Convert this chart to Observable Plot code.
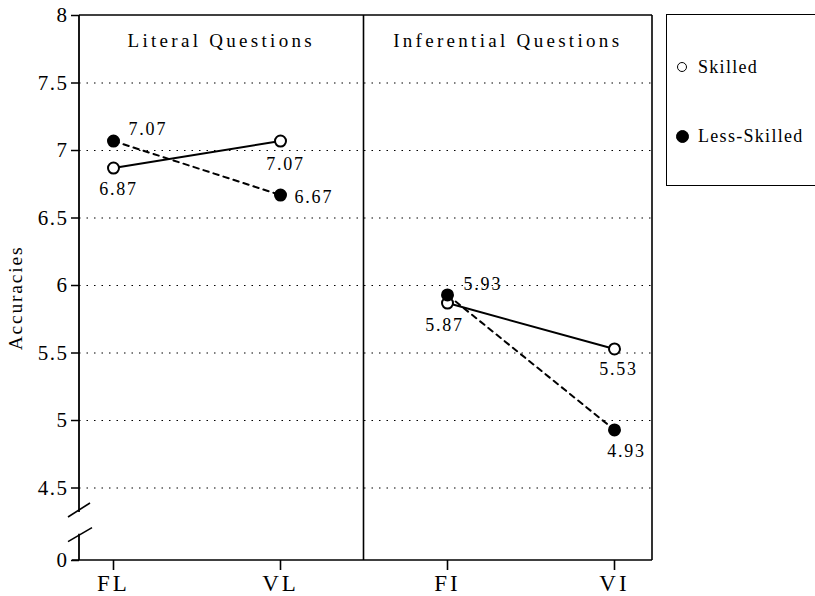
<!DOCTYPE html>
<html><head><meta charset="utf-8">
<script src="https://cdn.jsdelivr.net/npm/d3@7"></script>
<script src="https://cdn.jsdelivr.net/npm/@observablehq/plot@0.6"></script>
<style>
html,body{margin:0;padding:0;background:#fff;}
#wrap{position:relative;width:815px;height:596px;overflow:hidden;font-family:"Liberation Serif","DejaVu Serif",serif;}
#legend{position:absolute;left:666px;top:14px;width:160px;height:172px;border:1.6px solid #000;box-sizing:border-box;background:#fff;}
.item{position:absolute;left:31px;font-size:18px;letter-spacing:1.3px;line-height:20px;white-space:nowrap;color:#000;}
.mk{position:absolute;border:1.6px solid #000;border-radius:50%;box-sizing:border-box;}
g[aria-label="x-axis tick label"] text{letter-spacing:3px;}
g[aria-label="y-axis tick label"] text{letter-spacing:1.5px;}
</style>
</head><body>
<div id="wrap"><div id="chart"></div><div id="legend"></div></div>
<script>
const conditions = ["FL", "VL", "FI", "VI"];
const conditionPanel = ["Literal Questions", "Literal Questions", "Inferential Questions", "Inferential Questions"];
const panels = ["Literal Questions", "Inferential Questions"];
const seriesNames = ["Skilled", "Less-Skilled"];
const skilled = [6.87, 7.07, 5.87, 5.53];
const lessSkilled = [7.07, 6.67, 5.93, 4.93];
const yTicks = [4.5, 5, 5.5, 6, 6.5, 7, 7.5, 8];
const gridTicks = [4.5, 5, 5.5, 6, 6.5, 7, 7.5];
const zeroLabel = "0";
const yTitle = "Accuracies";

// axis break: the "0" tick sits at the bottom of the broken axis
const yFloor = 3.963;

const rows = conditions.flatMap((c, i) => [
  {cond: c, panel: conditionPanel[i], series: seriesNames[0], value: skilled[i]},
  {cond: c, panel: conditionPanel[i], series: seriesNames[1], value: lessSkilled[i]}
]);

// label placement (style only)
const placement = {
  "Skilled|FL": {dx: 5, dy: 21, anchor: "middle"},
  "Less-Skilled|FL": {dx: 15, dy: -12, anchor: "start"},
  "Skilled|VL": {dx: 5, dy: 23, anchor: "middle"},
  "Less-Skilled|VL": {dx: 14, dy: 2, anchor: "start"},
  "Less-Skilled|FI": {dx: 16, dy: -11, anchor: "start"},
  "Skilled|FI": {dx: -3, dy: 22, anchor: "middle"},
  "Skilled|VI": {dx: 4, dy: 20, anchor: "middle"},
  "Less-Skilled|VI": {dx: 12, dy: 21, anchor: "middle"}
};

const frameMark = (index, scales, values, dim) => {
  const x = scales.x, y = scales.y;
  const L = dim.marginLeft, R = dim.width - dim.marginRight, T = dim.marginTop, B = dim.height - dim.marginBottom;
  const mid = (x(conditions[1]) + x(conditions[2])) / 2;
  const y0 = y(yFloor), y45 = y(gridTicks[0]);
  const bU = y0 + (y45 - y0) * 0.69, bL = y0 + (y45 - y0) * 0.35;
  const g = d3.create("svg:g");
  const ln = (x1, y1, x2, y2, w = 1.6) => g.append("line")
    .attr("x1", x1).attr("y1", y1).attr("x2", x2).attr("y2", y2)
    .attr("stroke", "black").attr("stroke-width", w);
  ln(L, T, R, T);
  ln(R, T, R, B);
  ln(L - 7, B, R, B);
  ln(mid, T, mid, B);
  ln(L, T, L, bU + 2, 1.8);
  ln(L, bL - 1, L, B, 1.8);
  ln(L - 11, bU + 7, L + 11, bU - 7);
  ln(L - 11, bL + 7, L + 13, bL - 7);
  [[(L + mid) / 2, panels[0]], [(mid + R) / 2, panels[1]]].forEach(([cx, t]) => {
    g.append("text").attr("x", cx).attr("y", T + 32).attr("text-anchor", "middle")
      .attr("font-size", 19).attr("letter-spacing", "3.3px").attr("fill", "black").text(t);
  });
  return g.node();
};

const labelMarks = rows.map(r => {
  const p = placement[r.series + "|" + r.cond];
  return Plot.text([r], {x: "cond", y: "value", text: d => d.value.toFixed(2),
    dx: p.dx, dy: p.dy, textAnchor: p.anchor, fontSize: 18, fill: "black"});
});

const chart = Plot.plot({
  width: 815,
  height: 596,
  marginLeft: 79,
  marginRight: 163,
  marginTop: 15,
  marginBottom: 36,
  style: {fontFamily: "'Liberation Serif','DejaVu Serif',serif", fontSize: "18px", background: "white", color: "black", letterSpacing: "1.8px"},
  x: {type: "point", domain: conditions, padding: 0, insetLeft: 34, insetRight: 38},
  y: {type: "linear", domain: [yFloor, 8]},
  marks: [
    Plot.gridY(gridTicks, {stroke: "black", strokeOpacity: 1, strokeWidth: 1.2, strokeDasharray: "1.5,6"}),
    Plot.axisY({ticks: [yFloor, ...yTicks], tickFormat: d => d === yFloor ? zeroLabel : String(d), tickSize: 8, tickPadding: 3, fontSize: 21, strokeWidth: 1.5, label: null}),
    Plot.axisX({tickSize: 10, tickPadding: 4, fontSize: 23, strokeWidth: 1.6, label: null}),
    Plot.text([yTitle], {frameAnchor: "left", text: d => d, rotate: -90, textAnchor: "middle", dx: -64, dy: 10, fontSize: 19.5, fill: "black"}),
    frameMark,
    Plot.line(rows.filter(d => d.series === seriesNames[0]), {x: "cond", y: "value", z: "panel", stroke: "black", strokeWidth: 2}),
    Plot.line(rows.filter(d => d.series === seriesNames[1]), {x: "cond", y: "value", z: "panel", stroke: "black", strokeWidth: 2, strokeDasharray: "5.5,5"}),
    Plot.dot(rows, {x: "cond", y: "value", r: 5.5, stroke: "black", strokeWidth: 2,
      fill: d => d.series === seriesNames[0] ? "white" : "black"}),
    ...labelMarks
  ]
});
document.getElementById("chart").appendChild(chart);

const legend = document.getElementById("legend");
const mkSpec = [
  {top: 47, left: 10, size: 10, fill: "#fff"},
  {top: 115, left: 8.5, size: 13, fill: "#000"}
];
const textTop = [41.5, 110.5];
seriesNames.forEach((s, i) => {
  const m = document.createElement("span");
  m.className = "mk";
  Object.assign(m.style, {top: mkSpec[i].top + "px", left: mkSpec[i].left + "px",
    width: mkSpec[i].size + "px", height: mkSpec[i].size + "px", background: mkSpec[i].fill});
  legend.appendChild(m);
  const t = document.createElement("span");
  t.className = "item";
  t.style.top = textTop[i] + "px";
  t.textContent = s;
  legend.appendChild(t);
});
</script>
</body></html>
